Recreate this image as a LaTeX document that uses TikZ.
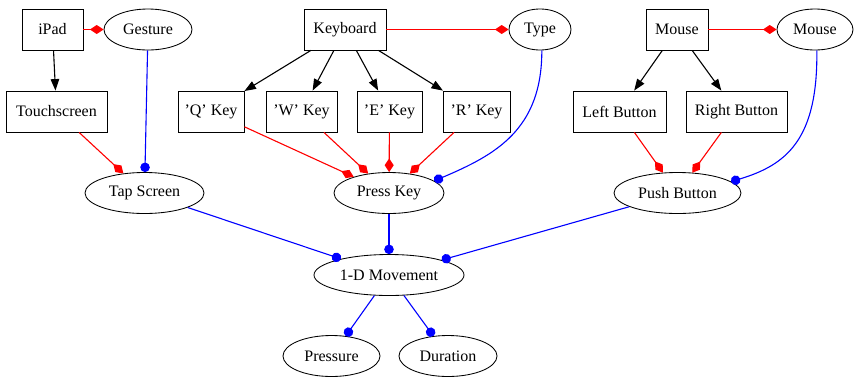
\documentclass[tikz,border=0pt]{standalone}
\usepackage{fontspec}
\setmainfont{Liberation Serif}
\usetikzlibrary{arrows.meta,shapes.geometric}
\begin{document}
\begin{tikzpicture}[x=1pt,y=-1pt,
  every node/.style={font=\fontsize{16}{19}\selectfont, line width=0.85pt, inner sep=0pt},
  bx/.style={draw, rectangle, minimum height=41pt},
  el/.style={draw, ellipse, minimum height=41pt},
  comp/.style={draw=black, line width=1.1pt, -{Triangle[length=11.5pt,width=8.5pt]}},
  has/.style={draw=red, line width=1.1pt, -{Diamond[length=13.7pt,width=9pt]}},
  uses/.style={draw=blue, line width=1.1pt, -{Circle[length=9.5pt]}}]
\useasboundingbox (0,0) rectangle (855,376);
% top row
\node[bx, minimum width=61pt] (ipad) at (52.5,29.5) {iPad};
\node[el, minimum width=88pt] (gesture) at (148,29.5) {Gesture};
\node[bx, minimum width=82pt] (keyboard) at (345,29.5) {Keyboard};
\node[el, minimum width=62pt] (type) at (540,29.5) {Type};
\node[bx, minimum width=62pt] (mouse) at (677,29.5) {Mouse};
\node[el, minimum width=76pt] (mousee) at (815,29.5) {Mouse};
% second row
\node[bx, minimum width=101pt] (touch) at (56.5,111.5) {Touchscreen};
\node[bx, minimum width=66pt] (qkey) at (211,111.5) {'Q' Key};
\node[bx, minimum width=71pt] (wkey) at (301.5,111.5) {'W' Key};
\node[bx, minimum width=65pt] (ekey) at (389.5,111.5) {'E' Key};
\node[bx, minimum width=67pt] (rkey) at (476.5,111.5) {'R' Key};
\node[bx, minimum width=93pt] (lbtn) at (619.5,111.5) {Left Button};
\node[bx, minimum width=101pt] (rbtn) at (736.5,111.5) {Right Button};
% third row
\node[el, minimum width=119pt] (tap) at (144.5,193) {Tap Screen};
\node[el, minimum width=110pt] (press) at (389,193) {Press Key};
\node[el, minimum width=127pt] (push) at (677.5,193) {Push Button};
% fourth row
\node[el, minimum width=150pt] (move) at (389,275) {1-D Movement};
% bottom row
\node[el, minimum width=97pt] (pressure) at (331.5,356) {Pressure};
\node[el, minimum width=98pt] (duration) at (448,356) {Duration};
% composition edges
\draw[comp] (ipad) -- (touch);
\draw[comp] (keyboard) -- (qkey);
\draw[comp] (keyboard) -- (wkey);
\draw[comp] (keyboard) -- (ekey);
\draw[comp] (keyboard) -- (rkey);
\draw[comp] (mouse) -- (lbtn);
\draw[comp] (mouse) -- (rbtn);
% has edges
\draw[has] (ipad) -- (gesture);
\draw[has] (keyboard) -- (type);
\draw[has] (mouse) -- (mousee);
\draw[has] (touch) -- (tap);
\draw[has] (qkey) -- (press);
\draw[has] (wkey) -- (press);
\draw[has] (ekey) -- (press);
\draw[has] (rkey) -- (press);
\draw[has] (lbtn) -- (push);
\draw[has] (rbtn) -- (push);
% uses edges
\draw[uses] (gesture) -- (tap);
\draw[uses] (type.-85) .. controls (542,130) and (495,155) .. (press.15);
\draw[uses] (mousee.-85) .. controls (818,140) and (786,165) .. (push.12);
\draw[uses] (tap) -- (move);
\draw[uses] (press) -- (move);
\draw[uses] (push) -- (move);
\draw[uses] (move) -- (pressure);
\draw[uses] (move) -- (duration);
\end{tikzpicture}
\end{document}
